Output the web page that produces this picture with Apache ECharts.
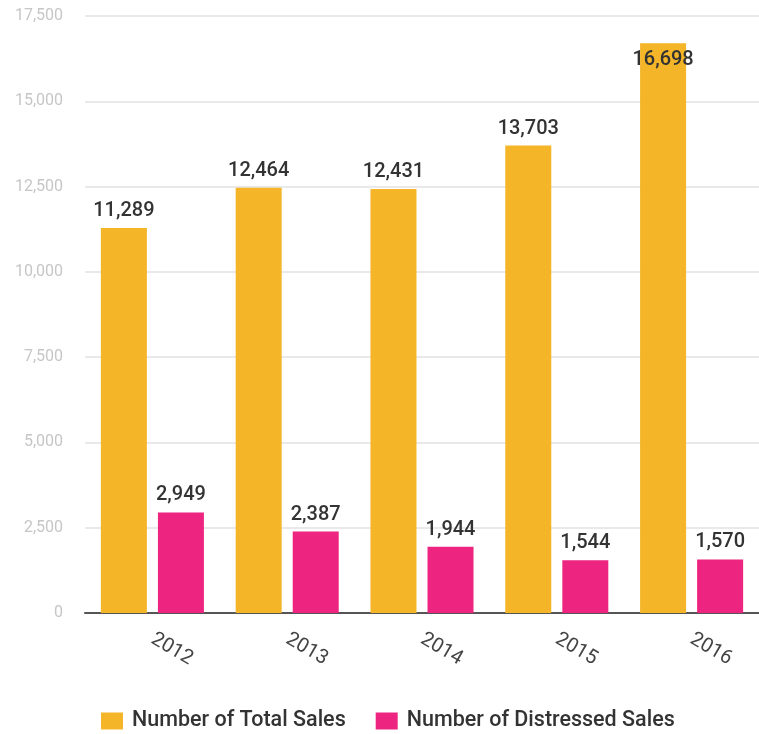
<!DOCTYPE html>
<html><head><meta charset="utf-8">
<script src="https://cdn.jsdelivr.net/npm/echarts@6/dist/echarts.min.js"></script>
<style>html,body{margin:0;padding:0;background:#fff}#c{width:759px;height:734px}</style>
</head><body><div id="c"></div>
<script>
var years = ['2012','2013','2014','2015','2016'];
var totalSales = [11289, 12464, 12431, 13703, 16698];
var distressedSales = [2949, 2387, 1944, 1544, 1570];
var yTicks = [0, 2500, 5000, 7500, 10000, 12500, 15000, 17500];

var FONT = 'Roboto, "Open Sans", sans-serif';
var chart = echarts.init(document.getElementById('c'), null, {renderer:'canvas'});
var lbl = {show:true, position:'top', distance:7, color:'#333', fontSize:20, fontFamily:FONT, fontWeight:'500',
  formatter:function(p){return p.value.toLocaleString('en-US');}};
var totalData = totalSales.map(function(v,i){
  if (v > 16000) return {value:v, label:{position:'insideTop', distance:7}};
  return v;
});
chart.setOption({
  animation:false,
  grid:{left:85, right:0, top:16, bottom:121, containLabel:false},
  legend:{top:710, left:101, padding:0, itemWidth:22, itemHeight:17, itemGap:30, icon:'rect',
    textStyle:{color:'#333', fontSize:21.5, fontFamily:FONT, fontWeight:'500', padding:[0,0,0,4]},
    data:['Number of Total Sales','Number of Distressed Sales']},
  xAxis:{type:'category', data:years,
    axisLine:{lineStyle:{color:'#555', width:2}},
    axisTick:{alignWithLabel:true, length:13, lineStyle:{color:'#555', width:2}},
    axisLabel:{rotate:-30, color:'#444', fontSize:20, fontFamily:FONT, margin:25}},
  yAxis:{type:'value', min:yTicks[0], max:yTicks[yTicks.length-1], interval:2500,
    axisLine:{show:false}, axisTick:{show:false},
    axisLabel:{color:'#c6c6c6', fontSize:16, fontFamily:FONT, margin:22,
      formatter:function(v){return v.toLocaleString('en-US');}},
    splitLine:{lineStyle:{color:'#e2e2e2', width:1.5}}},
  series:[
    {name:'Number of Total Sales', type:'bar', data:totalData, barWidth:46, barGap:'24%',
     itemStyle:{color:'#F4B529'}, label:lbl},
    {name:'Number of Distressed Sales', type:'bar', data:distressedSales, barWidth:46,
     itemStyle:{color:'#EE2580'}, label:lbl}
  ]
});
</script></body></html>
